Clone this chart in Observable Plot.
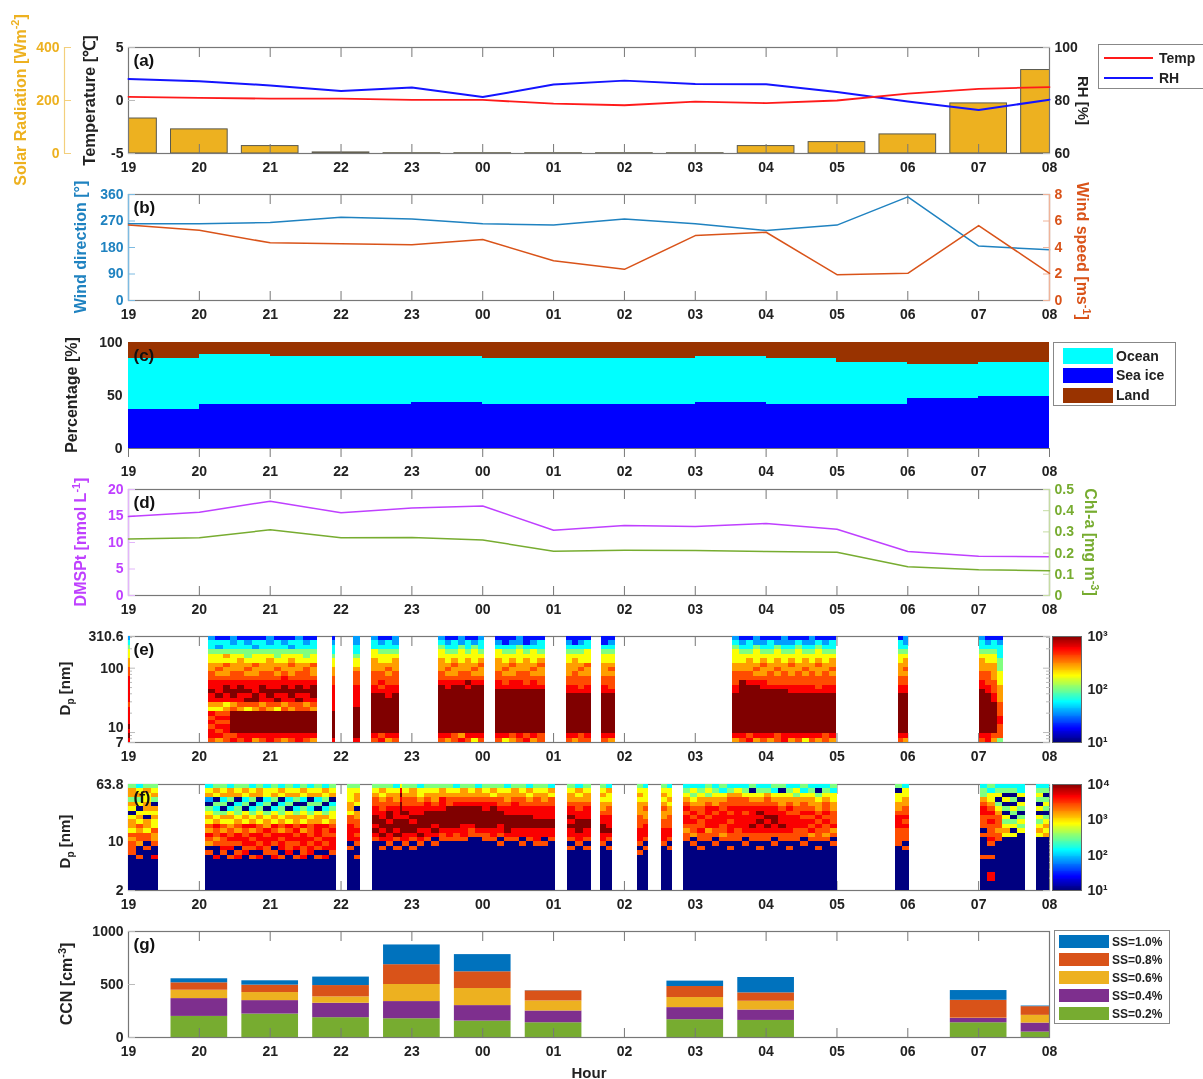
<!DOCTYPE html>
<html><head><meta charset="utf-8">
<script src="https://cdn.jsdelivr.net/npm/d3@7"></script>
<script src="https://cdn.jsdelivr.net/npm/@observablehq/plot@0.6"></script>
<style>
html,body{margin:0;padding:0;background:#fff}
#root{position:relative;width:1203px;height:1079px;overflow:hidden;font-family:"Liberation Sans",Arial,sans-serif;font-weight:bold;color:#222;filter:blur(0.45px)}
.lab{position:absolute;white-space:nowrap;transform-origin:center center}
.lab sup{font-size:.68em;line-height:0}.lab sub{font-size:.68em;line-height:0}
.legend{position:absolute;background:#fff;border:1px solid #888;box-sizing:border-box}
.sw{position:absolute}
.lt{position:absolute;white-space:nowrap;color:#222}
svg{position:absolute;left:0;overflow:visible}
</style></head><body><div id="root"></div>
<script>
const hours=["19","20","21","22","23","00","01","02","03","04","05","06","07","08"];
const solar=[132,91,28,4,1,1,1,1,1,28,43,72,189,315];
const temp=[0.35,0.24,0.18,0.18,0.05,0.05,-0.3,-0.45,-0.1,-0.25,0,0.65,1.1,1.27];
const rh=[88.1,87.3,85.7,83.6,84.9,81.3,86,87.5,86.2,86.1,83.2,79.6,76.4,80.3];
const windDir=[261,261,265,283,277,261,256,277,261,238,256,352,185,172];
const windSpd=[5.7,5.3,4.35,4.28,4.2,4.6,3.0,2.35,4.9,5.15,1.95,2.05,5.65,2.05];
const seaIce=[37,41.5,41.5,41.5,43.5,41.5,41.5,41.5,43.5,41.5,41.5,47.5,49.5];
const oceanTop=[85,89,87,87,87,85,85,85,87,85,81,79,81];
const dmsp=[14.9,15.7,17.8,15.6,16.5,16.9,12.3,13.2,13,13.6,12.5,8.3,7.4,7.3];
const chla=[0.266,0.272,0.31,0.272,0.273,0.262,0.209,0.214,0.212,0.207,0.204,0.136,0.122,0.117];
const ccnHours=[1,2,3,4,5,6,8,9,12,13];
const ss02=[199,221,187,177,155,139,168,161,139,51];
const ss04=[168,127,136,162,146,111,114,98,41,85];
const ss06=[79,76,60,161,161,95,95,83,3,73];
const ss08=[70,70,107,187,158,95,104,79,168,82];
const ss10=[38,41,80,186,162,2,51,145,92,6];
const colors={temp:"#ff1a1a",rh:"#1414ff",solar:"#EDB120",dir:"#1f82c0",spd:"#D95319",ocean:"#00ffff",ice:"#0000ff",land:"#993300",dmsp:"#bf40ff",chl:"#77AC30",c10:"#0072BD",c08:"#D95319",c06:"#EDB120",c04:"#7E2F8E",c02:"#77AC30"};
// colour level of a cell (0 dark blue ... 9 dark red) as a share of the colour bar
const levelShare=[0,.14,.28,.38,.5,.62,.72,.8,.88,1];
// (e) SMPS columns, bottom to top, 24 size bins: [start, end, columns]
const smpsE=[
[0,0.03,["898988887888888776655432"]],
[1.13,2.67,["788787856889887766554332","687878756898887676554231","778878765889987667564331","879999976899887766554322","789999967889987766654331","889999957989887676544321","689999967998887667554231","789999976889987766554331","889999967899887766654322","789999957989887676544331","689999976889988766554321","789999967899887667654231","889999977989987766554332","789999976889887776544321","689999967899987667554331"]],
[2.88,2.92,["899999988888877665543321"]],
[3.18,3.28,["899999998888877765543322"]],
[3.43,3.83,["789999999998877766655332","879999999998787766554321","689999999988877676554331","789999999998877766654322"]],
[4.38,5.03,["789999999999987766655432","689999999999887676554321","779999999999987667654331","869999999999987766555422","789999999999897766654331","589999999999987676555421","789999999999987667654332"]],
[5.18,5.88,["789999999999887766655321","589999999999877676554311","679999999999887667654321","789999999999887766555422","879999999999877766654311","689999999999887676555321","779999999999877667654331"]],
[6.18,6.53,["789999999998877666554321","689999999998877766654311","779999999998777676554321","789999999998877667555331"]],
[6.68,6.87,["789999999998877666554311","689999999998777676554321"]],
[8.52,10,["689999999998877766555432","789999999999997766554321","879999999999987766654331","689999999999987676555422","789999999999887667654321","689999999999877766554331","779999999999877676655421","889999999999877766554322","689999999998877667654321","789999999998877766555431","589999999998877676654321","789999999998877766554322","689999999998777667655431","779999999998877766554321","689999999998877676654331"]],
[10.87,11.01,["789999999998877666554331","689999999998877676654322"]],
[12.01,12.35,["789999999999887766654332","889999999998877766554321","679999999887776666554331","477788777666655544433321"]]
];
// (f) NAIS columns, same coding
const naisF=[
[0,0.43,["000000007776756650564664","000000070067767565054653","000000000707756605665564","000000080076675565604654"]],
[1.09,2.94,["000000007067867565402653","000000080076778654340564","000000007877867564043654","000000070878776565304663","000000087078867654430654","000000008788778565043564","000000070787868654304653","000000080878877565430664","000000007788786654043553","000000087078878565304654","000000070887867654430563","000000008778878565043654","000000070878787664304653","000000087788868565403564","000000008878777654340653","000000070787888665043654","000000080878778564304563","000000007888787655430654"]],
[3.09,3.28,["000000000708888775665554","000000070078787766056654"]],
[3.44,3.84,["000000000007898998877654","000000000708989988776564","000000000078899899877654","000000000707989988876653"]],
[3.84,3.87,["000000000708999989998985"]],
[3.87,6.03,["000000000078899989877654","000000000707899898877664","000000000078989998876553","000000000007889999887654","000000000070898999876654","000000000007789999888664","000000000007889999977654","000000000007789999987653","000000000007888999987664","000000000000778999987654","000000000000789999987663","000000000007789999887654","000000000007889999987564","000000000070788999877654","000000000007899998876653","000000000007889998887664","000000000070889998877654","000000000007889998876563","000000000078889988877654","000000000070889988876654","000000000007889988877563"]],
[6.19,6.53,["000000000707889898876654","000000000078899988776563","000000000707889988876654"]],
[6.66,6.83,["000000000078899887665654","000000000707898887765563"]],
[7.19,7.34,["000000007078887776665654","000000000707888766765553"]],
[7.53,7.68,["000000000078887766765654","000000000707887776656553"]],
[7.83,10.01,["000000000007767887876543","000000000070677878765453","000000000707787787766543","000000000007768878876454","000000000070778887866543","000000000007677888776534","000000000707788787877643","000000000007778888877653","000000000070788887877543","000000000007789888876504","000000000707788989876543","000000000007789898877643","000000000070788998876534","000000000007789888766504","000000000707788887876543","000000000007778887766453","000000000070778878776534","000000000007687878766543","000000000707778787665403","000000000007677878776543","000000000070768777665534"]],
[10.82,11.02,["000000000077778887665504","000000000707778787766553"]],
[12.02,12.66,["000000070000707778876443","008800070078777878765534","000000000007767776540543","000000000000565450405043","000000000000505404504043","000000000000054540450533"]],
[12.82,13,["000000000000565450504543","000000000000656540454043"]]
];

const root=document.getElementById("root");
const FONT="'Liberation Sans',Arial,sans-serif";
const T=[47,194,342,489,636,784,931], PH=106, MT=20, MB=32;
const idx=hours.map((_,i)=>i);
const series=a=>a.map((v,i)=>({i,v}));
const grey="#777";
function layer(panel,{y,marks,left=128,right=154,color}){
  const p=Plot.plot({width:1203,height:PH+MT+MB,marginLeft:left,marginRight:right,marginTop:MT,marginBottom:MB,
    x:{domain:[0,13],axis:null},y:{...y,axis:null},color,marks,
    style:{background:"transparent",fontFamily:FONT,fontSize:"14px",fontWeight:"bold",color:"#222",overflow:"visible",top:(T[panel]-MT)+"px",position:"absolute"}});
  root.appendChild(p);return p;
}
function xAxes(){
  return [Plot.axisX(idx,{anchor:"bottom",label:null,tickSize:-9,tickPadding:18,tickFormat:i=>hours[i],stroke:grey,fill:"#222"}),
          Plot.axisX(idx,{anchor:"top",label:null,tickSize:-9,text:null,stroke:grey})];
}
const yA=(ticks,o={})=>Plot.axisY(ticks,{anchor:"left",label:null,tickSize:-7,tickPadding:12,stroke:"#bbb",fill:"#222",tickFormat:String,...o});
const yAR=(ticks,o={})=>Plot.axisY(ticks,{anchor:"right",label:null,tickSize:-7,tickPadding:12,stroke:"#bbb",fill:"#222",tickFormat:String,...o});
const frame=(o={})=>Plot.frame({stroke:grey,strokeWidth:1.2,...o});
const letter=s=>Plot.text([s],{frameAnchor:"top-left",dx:5,dy:6,fontSize:17,fontWeight:"bold",fill:"#111"});
const line=(a,stroke,w=1.5)=>Plot.line(series(a),{x:"i",y:"v",stroke,strokeWidth:w,curve:"linear"});

// (a)
layer(0,{y:{domain:[0,400]},marks:[
  Plot.rect(series(solar),{x1:d=>d.i-.4,x2:d=>d.i+.4,y1:0,y2:"v",fill:colors.solar,stroke:"#5a5a50",strokeWidth:1,clip:true})]});
layer(0,{y:{domain:[60,100]},marks:[
  frame(),...xAxes(),
  yAR([60,80,100]),
  line(rh,colors.rh,2)]});
layer(0,{y:{domain:[-5,5]},marks:[
  yA([-5,0,5]),line(temp,colors.temp,1.8),letter("(a)")]});
layer(0,{left:64,right:1203-65,y:{domain:[0,400]},marks:[
  Plot.ruleX([0],{stroke:"#f3cf7c",strokeWidth:1.2}),
  yA([0,200,400],{stroke:"#f3cf7c",fill:colors.solar})]});

// (b)
layer(1,{y:{domain:[0,360]},marks:[
  frame(),...xAxes(),
  Plot.ruleX([0],{stroke:"#7dbbe2",strokeWidth:1.4}),
  yA([0,90,180,270,360],{stroke:"#7dbbe2",fill:colors.dir}),
  line(windDir,colors.dir),letter("(b)")]});
layer(1,{y:{domain:[0,8]},marks:[
  Plot.ruleX([13],{stroke:"#f0b49a",strokeWidth:1.4}),
  yAR([0,2,4,6,8],{stroke:"#f0b49a",fill:colors.spd}),
  line(windSpd,colors.spd)]});

// (c)
const stairs=seaIce.map((s,i)=>({i,ice:s,top:oceanTop[i]}));
layer(2,{y:{domain:[0,100]},marks:[
  Plot.rect(stairs,{x1:"i",x2:d=>d.i+1,y1:0,y2:"ice",fill:colors.ice,shapeRendering:"crispEdges"}),
  Plot.rect(stairs,{x1:"i",x2:d=>d.i+1,y1:"ice",y2:"top",fill:colors.ocean,shapeRendering:"crispEdges"}),
  Plot.rect(stairs,{x1:"i",x2:d=>d.i+1,y1:"top",y2:100,fill:colors.land,shapeRendering:"crispEdges"}),
  Plot.axisX(idx,{anchor:"bottom",label:null,tickSize:9,tickPadding:9,tickFormat:i=>hours[i],stroke:grey,fill:"#222"}),
  Plot.ruleY([0],{stroke:grey}),
  yA([0,50,100],{tickSize:0,tickPadding:6}),letter("(c)")]});

// (d)
layer(3,{y:{domain:[0,20]},marks:[
  frame(),...xAxes(),
  Plot.ruleX([0],{stroke:"#e3b5fb",strokeWidth:1.4}),
  yA([0,5,10,15,20],{stroke:"#e3b5fb",fill:colors.dmsp}),
  line(dmsp,colors.dmsp),letter("(d)")]});
layer(3,{y:{domain:[0,.5]},marks:[
  Plot.ruleX([13],{stroke:"#c6dca4",strokeWidth:1.4}),
  yAR([0,.1,.2,.3,.4,.5],{stroke:"#c6dca4",fill:colors.chl}),
  line(chla,colors.chl)]});

// heat maps
function jet(t){const c=v=>Math.round(255*Math.max(0,Math.min(1,v)));
  return `rgb(${c(Math.min(4*t-1.5,-4*t+4.5))},${c(Math.min(4*t-.5,-4*t+3.5))},${c(Math.min(4*t+.5,-4*t+2.5))})`;}
function cells(segs,lo,hi,dec){const out=[],R=24,e=r=>lo*Math.pow(hi/lo,r/R);
  for(const [s,f,cols] of segs){const w=(f-s)/cols.length;
    cols.forEach((col,c)=>{[...col].forEach((ch,r)=>{out.push({x1:s+c*w,x2:s+(c+1)*w,y1:e(r),y2:e(r+1),v:Math.pow(10,1+dec*levelShare[+ch])});});});}
  return out;}
function heat(panel,segs,lo,hi,dec,labelTicks,minor,name,nudge={}){
  const color={type:"log",domain:[10,Math.pow(10,1+dec)],interpolate:jet};
  layer(panel,{y:{type:"log",domain:[lo,hi]},color,marks:[
    frame(),...xAxes(),
    Plot.axisY(labelTicks,{anchor:"left",label:null,tickSize:-7,text:null,stroke:"#bbb"}),
    ...labelTicks.map(t=>Plot.text([t],{y:d=>d,text:d=>String(d),frameAnchor:"left",textAnchor:"end",dx:-5,dy:nudge[t]||0,fill:"#222"})),
    Plot.axisY(minor,{anchor:"left",label:null,tickSize:-4,text:null,stroke:"#bbb"}),
    Plot.axisY(labelTicks,{anchor:"right",label:null,tickSize:-7,text:null,stroke:"#bbb"}),
    Plot.axisY(minor,{anchor:"right",label:null,tickSize:-4,text:null,stroke:"#bbb"}),
    Plot.rect(cells(segs,lo,hi,dec),{x1:"x1",x2:"x2",y1:"y1",y2:"y2",fill:"v",shapeRendering:"crispEdges"}),
    letter(name)]});
  const steps=d3.range(0,120).map(i=>({a:Math.pow(10,1+dec*i/120),b:Math.pow(10,1+dec*(i+1)/120)}));
  const sup={1:"¹",2:"²",3:"³",4:"⁴"};
  const ticks=d3.range(0,dec+1).map(i=>Math.pow(10,1+i));
  layer(panel,{left:1052,right:1203-1081,y:{type:"log",domain:[10,Math.pow(10,1+dec)]},color,marks:[
    Plot.rect(steps,{x1:0,x2:13,y1:"a",y2:"b",fill:"a",shapeRendering:"crispEdges"}),
    frame({stroke:"#666",strokeWidth:1}),
    Plot.axisY(ticks,{anchor:"right",label:null,tickSize:0,tickPadding:6,fill:"#222",tickFormat:d=>"10"+sup[Math.round(Math.log10(d))]})]});
}
heat(4,smpsE,7,310.6,2,[7,10,100,310.6],[8,9,20,30,40,50,60,70,80,90,200,300],"(e)",{7:0,10:-5});
heat(5,naisF,2,63.8,3,[2,10,63.8],[3,4,5,6,7,8,9,20,30,40,50,60],"(f)");

// (g)
const ccn=[["SS=0.2%",ss02,colors.c02],["SS=0.4%",ss04,colors.c04],["SS=0.6%",ss06,colors.c06],["SS=0.8%",ss08,colors.c08],["SS=1.0%",ss10,colors.c10]]
  .flatMap(([k,a,c])=>a.map((v,j)=>({k,c,h:ccnHours[j],v})));
layer(6,{y:{domain:[0,1000]},marks:[
  Plot.rectY(ccn,{x1:d=>d.h-.4,x2:d=>d.h+.4,y:"v",fill:"c",order:null,z:"k",clip:true}),
  frame(),...xAxes(),
  yA([0,500,1000]),letter("(g)")]});

// text labels outside the plots
function vlabel(html,cx,cy,rot,color,size=15){
  const d=document.createElement("div");d.className="lab";d.innerHTML=html;d.style.color=color;d.style.fontSize=size+"px";
  root.appendChild(d);const r=d.getBoundingClientRect();
  d.style.left=(cx-r.width/2)+"px";d.style.top=(cy-r.height/2)+"px";d.style.transform=`rotate(${rot}deg)`;
}
vlabel("Solar Radiation [Wm<sup>-2</sup>]",21,100,-90,colors.solar,16);
vlabel("Temperature [℃]",88,100,-90,"#222",16.5);
vlabel("RH [%]",1084,100,90,"#222",15);
vlabel("Wind direction [°]",81,247,-90,colors.dir,16);
vlabel("Wind speed [ms<sup>-1</sup>]",1082,251,90,colors.spd,16);
vlabel("Percentage [%]",72,395,-90,"#222",16);
vlabel("DMSPt [nmol L<sup>-1</sup>]",81,542,-90,colors.dmsp,16);
vlabel("Chl-a [mg m<sup>-3</sup>]",1090,542,90,colors.chl,16);
vlabel("D<sub>p</sub> [nm]",65,688,-90,"#222",15);
vlabel("D<sub>p</sub> [nm]",65,841,-90,"#222",15);
vlabel("CCN [cm<sup>-3</sup>]",67,984,-90,"#222",16);
vlabel("Hour",589,1072,0,"#222",15);

function legend(x,y,w,h,items,size){
  const b=document.createElement("div");b.className="legend";
  Object.assign(b.style,{left:x+"px",top:y+"px",width:w+"px",height:h+"px"});root.appendChild(b);
  for(const it of items){
    const s=document.createElement("div");s.className="sw";
    Object.assign(s.style,{left:it.sx+"px",top:it.sy+"px",width:it.sw+"px",height:it.sh+"px",background:it.c});b.appendChild(s);
    const t=document.createElement("div");t.className="lt";t.textContent=it.t;t.style.fontSize=size+"px";
    t.style.left=it.tx+"px";t.style.top=(it.sy+it.sh/2-size*.58)+"px";b.appendChild(t);
  }
}
legend(1098,44,110,45,[
 {t:"Temp",c:colors.temp,sx:5,sy:12,sw:49,sh:2,tx:60},
 {t:"RH",c:colors.rh,sx:5,sy:32,sw:49,sh:2,tx:60}],14);
legend(1053,342,123,64,[
 {t:"Ocean",c:colors.ocean,sx:9,sy:5,sw:50,sh:16,tx:62},
 {t:"Sea ice",c:colors.ice,sx:9,sy:25,sw:50,sh:15,tx:62},
 {t:"Land",c:colors.land,sx:9,sy:45,sw:50,sh:15,tx:62}],14);
legend(1054,930,116,94,[
 {t:"SS=1.0%",c:colors.c10,sx:4,sy:4,sw:50,sh:13,tx:57},
 {t:"SS=0.8%",c:colors.c08,sx:4,sy:22,sw:50,sh:13,tx:57},
 {t:"SS=0.6%",c:colors.c06,sx:4,sy:40,sw:50,sh:13,tx:57},
 {t:"SS=0.4%",c:colors.c04,sx:4,sy:58,sw:50,sh:13,tx:57},
 {t:"SS=0.2%",c:colors.c02,sx:4,sy:76,sw:50,sh:13,tx:57}],12);
</script></body></html>
